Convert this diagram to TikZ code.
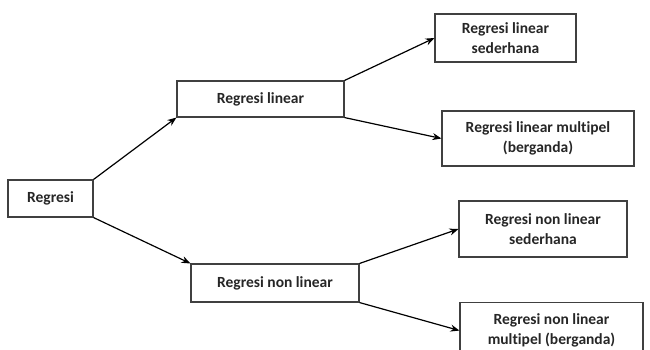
\documentclass[tikz,border=0pt]{standalone}
\usepackage{fontspec}
\setmainfont{Carlito}[Ligatures={NoCommon}]
\usetikzlibrary{arrows.meta}
\tikzset{
    kotak/.style = {draw=black!75, line width=1.1pt, align=center, inner sep=2pt, font=\bfseries\fontsize{15.5}{20}\selectfont, text=black!85},
    panah/.style = {line width=1.2pt, -{Stealth[length=9pt,width=7pt]}}
}
\begin{document}
\begin{tikzpicture}[x=1pt,y=-1pt]
    \clip (0,0) rectangle (650,349);
    \useasboundingbox (0,0) rectangle (650,349);
    \node[kotak, minimum width=85pt, minimum height=37pt] (regresi) at (50.5,198.5) {Regresi};
    \node[kotak, minimum width=167pt, minimum height=36pt] (linear) at (260.5,99) {Regresi linear};
    \node[kotak, minimum width=168pt, minimum height=38pt] (nonlinear) at (275,283) {Regresi non linear};
    \node[kotak, minimum width=141pt, minimum height=48pt] (linsed) at (505.5,38) {Regresi linear\\sederhana};
    \node[kotak, minimum width=192pt, minimum height=55pt] (linmul) at (538,138.5) {Regresi linear multipel\\(berganda)};
    \node[kotak, minimum width=168pt, minimum height=56pt] (nlsed) at (543,229) {Regresi non linear\\sederhana};
    \node[kotak, minimum width=183pt, minimum height=56pt, anchor=north] (nlmul) at (551.5,302) {Regresi non linear\\multipel (berganda)};
    % panah dari induk ke cabang
    \draw[panah] (regresi.north east) -- (linear.south west);
    \draw[panah] (regresi.south east) -- (nonlinear.north west);
    \draw[panah] (linear.north east) -- (linsed.west);
    \draw[panah] (linear.south east) -- (linmul.west);
    \draw[panah] (nonlinear.north east) -- (nlsed.west);
    \draw[panah] (nonlinear.south east) -- (nlmul.west);
\end{tikzpicture}
\end{document}
